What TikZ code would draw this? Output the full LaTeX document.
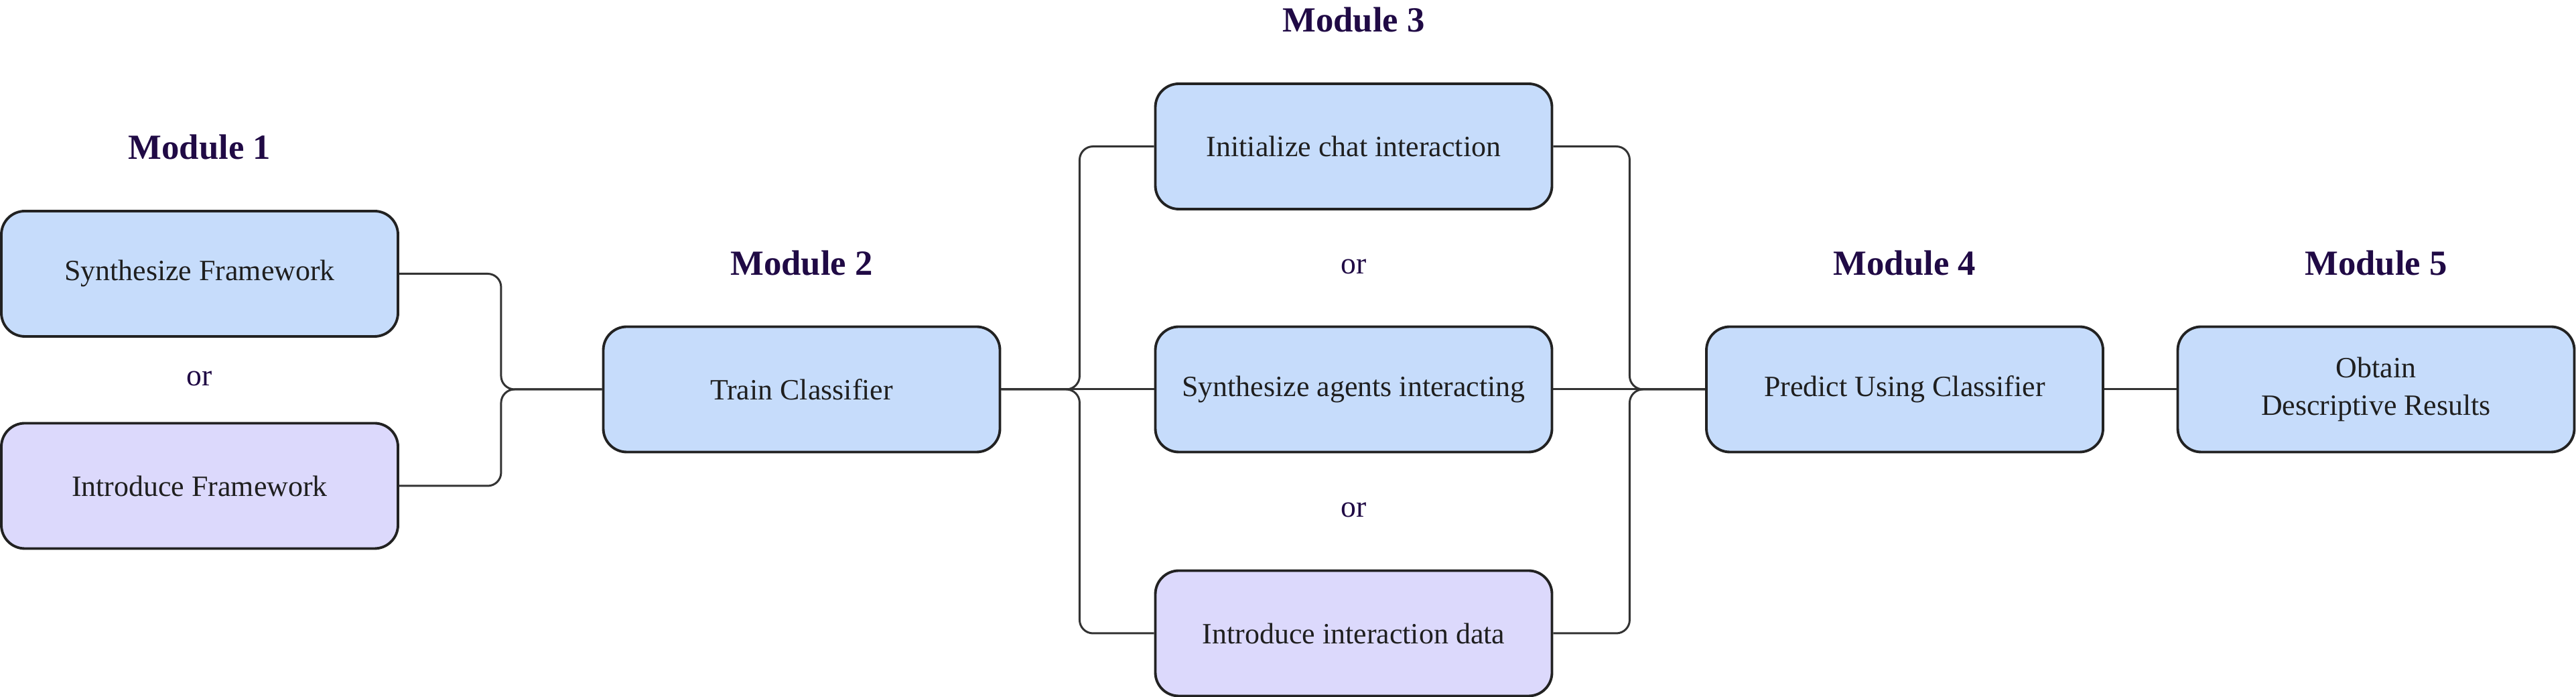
\documentclass[tikz,border=0pt]{standalone}
\usepackage{fontspec}
\setmainfont{Liberation Serif}
\usepackage{xcolor}
\definecolor{stepblue}{HTML}{C6DCFB}
\definecolor{steppurple}{HTML}{DCD9FC}
\definecolor{titlecol}{HTML}{200A45}
\definecolor{edgecol}{HTML}{222222}
\tikzset{stepbox/.style={draw=edgecol, line width=1.1pt, rounded corners=0.35cm,
   minimum width=5.92cm, minimum height=1.87cm, align=center, text=black!88,
   font=\fontsize{12.5}{16}\selectfont},
 bluebox/.style={stepbox, fill=stepblue},
 purplebox/.style={stepbox, fill=steppurple},
 modtitle/.style={text=titlecol, font=\fontsize{15}{18}\selectfont\bfseries},
 ortext/.style={text=titlecol, font=\fontsize{13}{16}\selectfont},
 link/.style={draw=black!80, line width=0.85pt, rounded corners=0.2cm},
 }

\begin{document}
\begin{tikzpicture}
        \useasboundingbox (0,0) rectangle (38.45,10.4);
        % module 1
        \node[modtitle] (m1) at (2.98, 8.2) {Module 1};
        \node[bluebox] (synfw) at (2.98, 6.315) {Synthesize Framework};
        \node[ortext] (or1) at (2.98, 4.75) {or};
        \node[purplebox] (introfw) at (2.98, 3.15) {Introduce Framework};
        % module 2
        \node[modtitle] (m2) at (11.965, 6.47) {Module 2};
        \node[bluebox] (train) at (11.965, 4.59) {Train Classifier};
        % module 3
        \node[modtitle] (m3) at (20.205, 10.1) {Module 3};
        \node[bluebox] (chat) at (20.205, 8.215) {Initialize chat interaction};
        \node[ortext] (or2) at (20.205, 6.42) {or};
        \node[bluebox] (agents) at (20.205, 4.59) {Synthesize agents interacting};
        \node[ortext] (or3) at (20.205, 2.79) {or};
        \node[purplebox] (introdata) at (20.205, 0.95) {Introduce interaction data};
        % module 4 and 5
        \node[modtitle] (m4) at (28.43, 6.47) {Module 4};
        \node[bluebox] (predict) at (28.43, 4.59) {Predict Using Classifier};
        \node[modtitle] (m5) at (35.465, 6.47) {Module 5};
        \node[bluebox] (obtain) at (35.465, 4.59) {Obtain\\Descriptive Results};
        % connectors
        \draw[link] (synfw.east) -- ++(1.52,0) |- (train.west);
        \draw[link] (introfw.east) -- ++(1.52,0) |- (train.west);
        \draw[link] (train.east) -- ++(1.17,0) |- (chat.west);
        \draw[link] (train.east) -- (agents.west);
        \draw[link] (train.east) -- ++(1.17,0) |- (introdata.west);
        \draw[link] (chat.east) -- ++(1.14,0) |- (predict.west);
        \draw[link] (agents.east) -- (predict.west);
        \draw[link] (introdata.east) -- ++(1.14,0) |- (predict.west);
        \draw[link] (predict.east) -- (obtain.west);
    \end{tikzpicture}
\end{document}
